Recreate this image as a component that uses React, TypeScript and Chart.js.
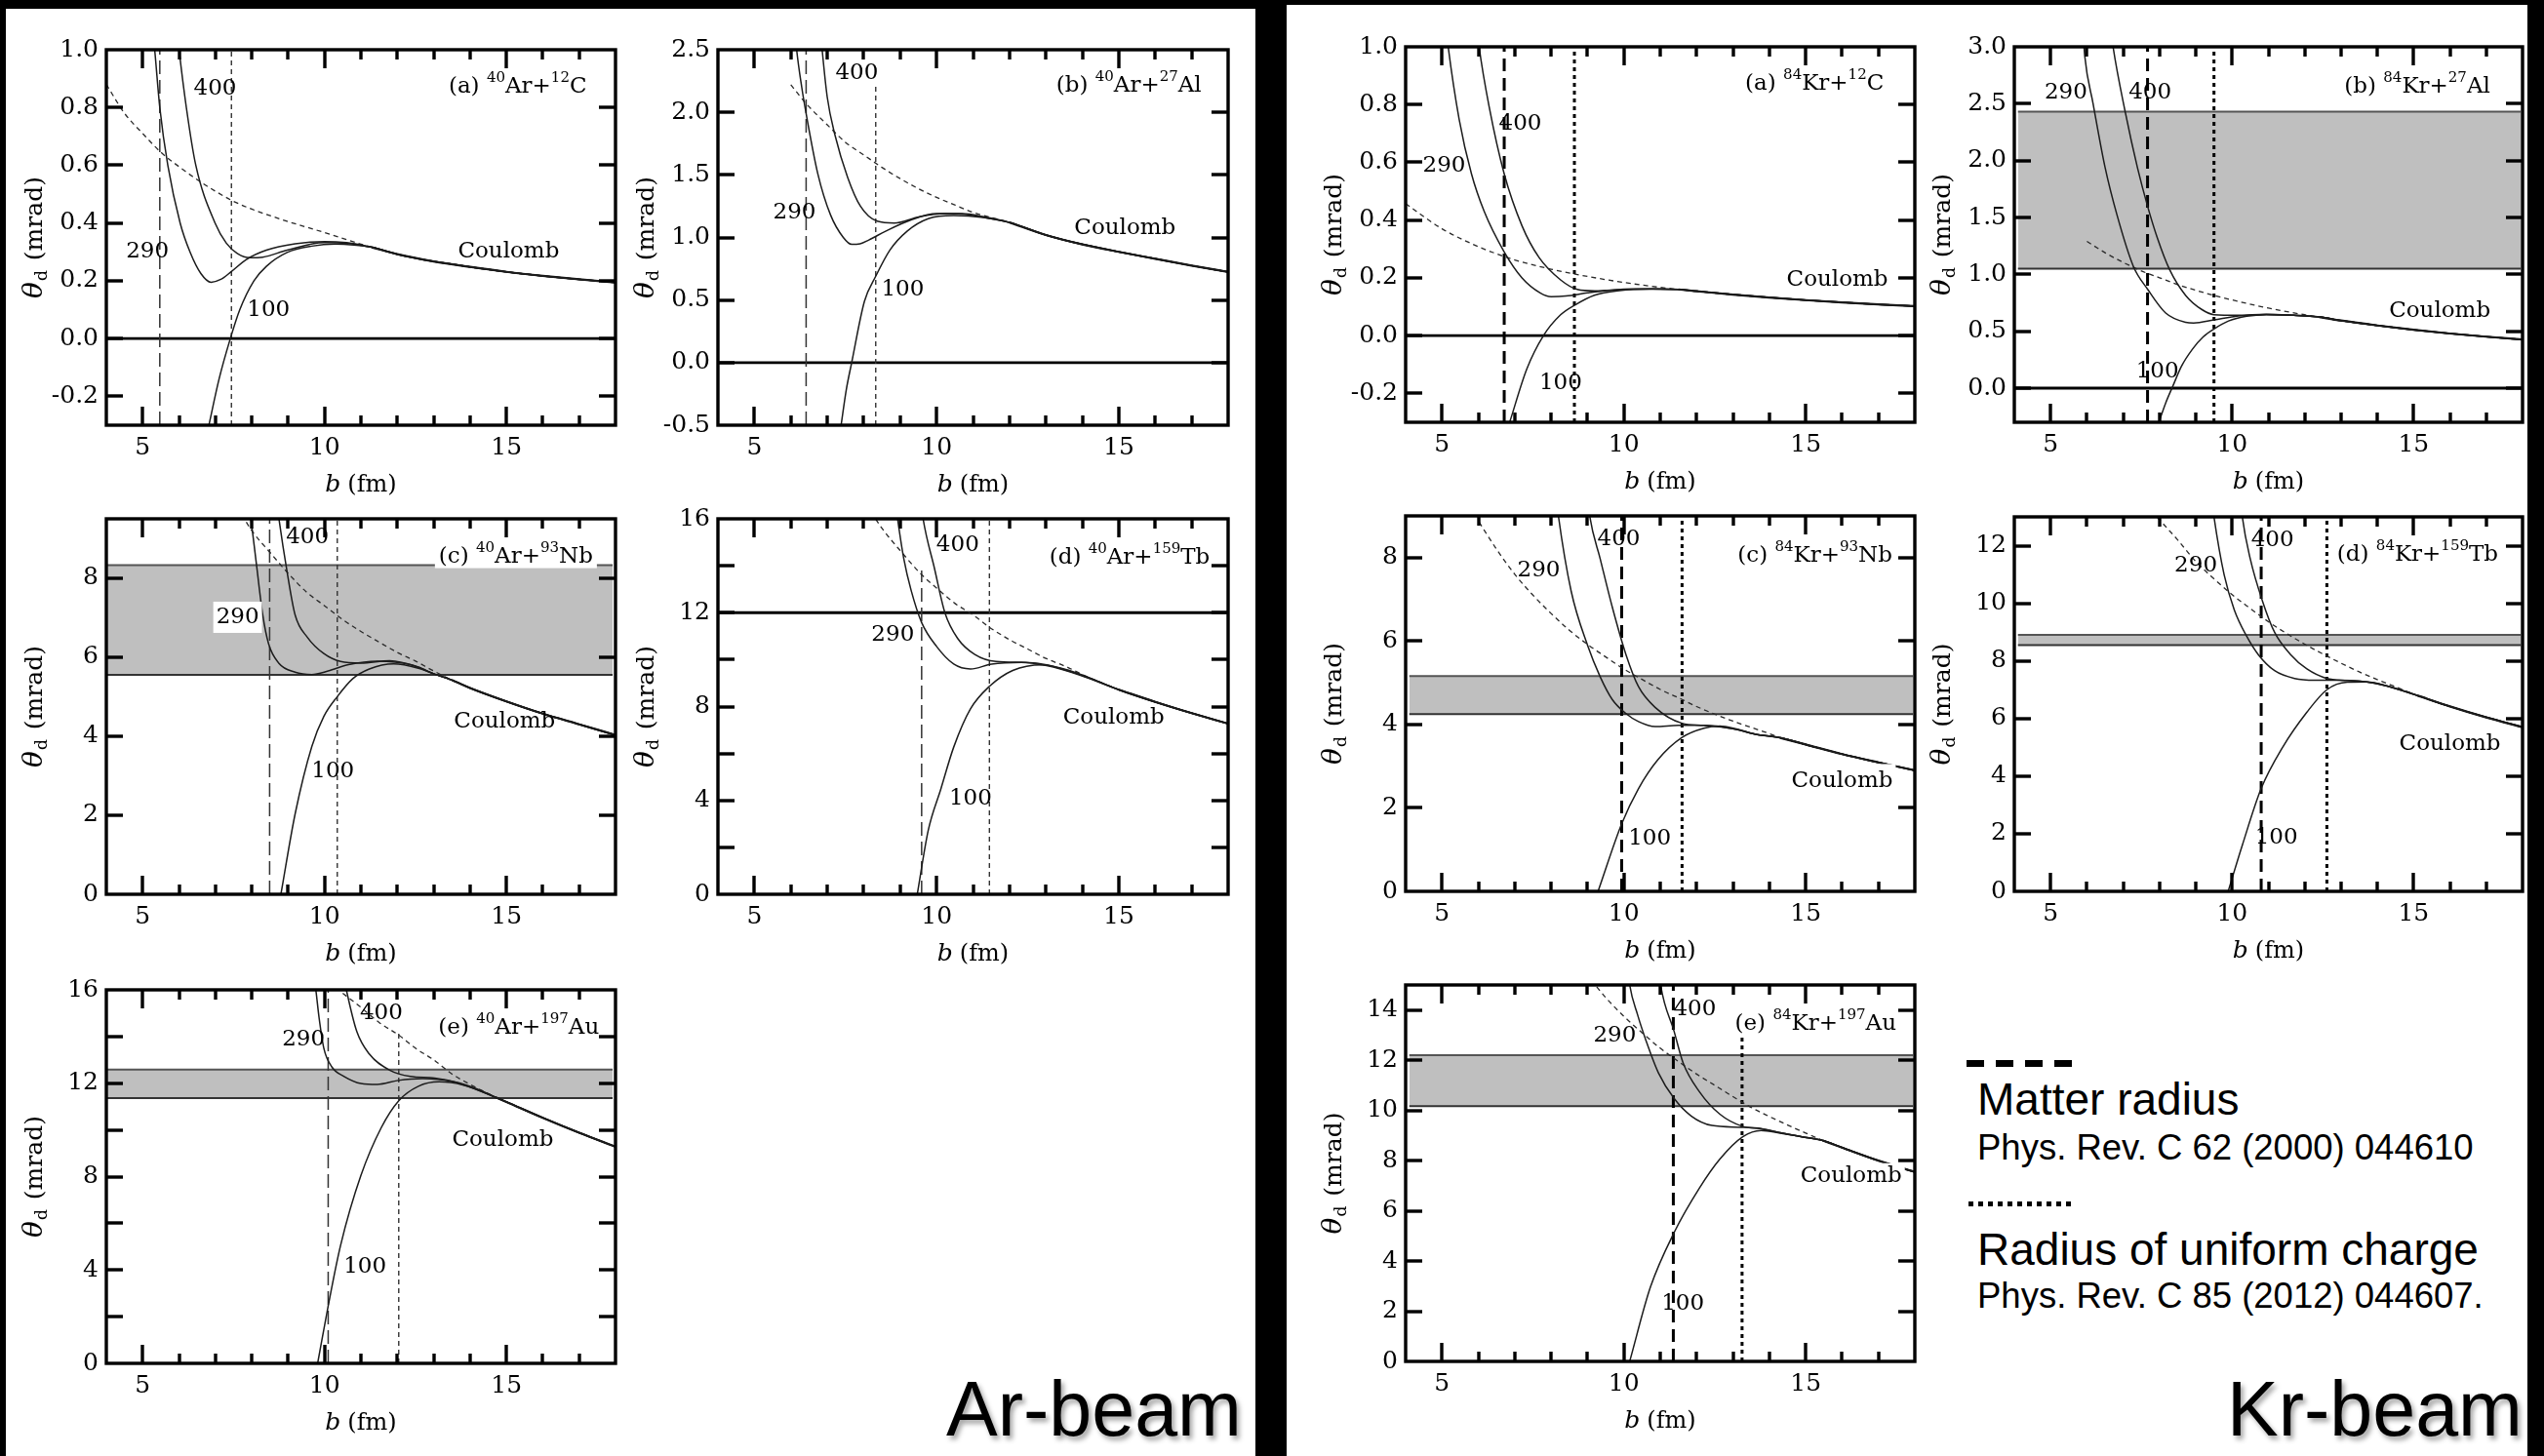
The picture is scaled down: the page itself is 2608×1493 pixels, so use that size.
import { useEffect, useRef } from "react";
import { Chart, registerables } from "chart.js";

Chart.register(...registerables);

type Pt = [number, number];

const SERIF = '"DejaVu Serif", "Liberation Serif", serif';
const SANS = '"Liberation Sans", Arial, Helvetica, sans-serif';

/* ---------- impact parameter axis b (fm), shared by every panel ---------- */
const B_MIN = 4;
const B_MAX = 18;
const B_TICKS = [5, 10, 15];
const B_MINOR = [5, 6, 7, 8, 9, 10, 11, 12, 13, 14, 15, 16, 17];

/* ================= 40Ar beam ================= */

/* (a) 40Ar + 12C */
const AR_C_Y: Pt = [-0.3, 1.0];
const AR_C_TICKS = [-0.2, 0, 0.2, 0.4, 0.6, 0.8, 1.0];
const AR_C_RADII: Pt = [5.47, 7.44]; // matter radius, uniform-charge radius
const AR_C_E100: Pt[] = [[6.82, -0.3], [7.1, -0.14], [7.41, 0.0], [7.67, 0.1], [8.06, 0.2], [8.4, 0.25], [8.97, 0.298], [9.65, 0.32], [10.3, 0.327], [10.8, 0.324], [11.3, 0.316]];
const AR_C_E290: Pt[] = [[5.25, 1.1], [5.33, 1.0], [5.47, 0.8], [5.69, 0.6], [6.03, 0.4], [6.3, 0.3], [6.6, 0.225], [6.88, 0.195], [7.15, 0.205], [7.44, 0.232], [7.84, 0.273], [8.4, 0.306], [9.19, 0.328], [10.0, 0.336], [10.6, 0.332], [11.3, 0.316]];
const AR_C_E400: Pt[] = [[5.95, 1.06], [6.0, 1.0], [6.2, 0.8], [6.46, 0.6], [6.99, 0.4], [7.3, 0.33], [7.6, 0.295], [7.95, 0.28], [8.3, 0.282], [8.97, 0.306], [9.98, 0.332], [10.6, 0.33], [11.3, 0.316]];
const AR_C_COUL: Pt[] = [[4, 0.88], [4.5, 0.78], [5, 0.71], [5.5, 0.645], [6, 0.595], [6.5, 0.55], [7, 0.51], [7.5, 0.475], [8, 0.448], [9, 0.405], [10, 0.367], [11, 0.327], [11.3, 0.316]];
const AR_C_TAIL: Pt[] = [[11.3, 0.316], [12, 0.292], [13, 0.267], [14, 0.248], [15, 0.231], [16, 0.217], [17, 0.205], [18, 0.194]];

/* (b) 40Ar + 27Al */
const AR_AL_Y: Pt = [-0.5, 2.5];
const AR_AL_TICKS = [-0.5, 0, 0.5, 1.0, 1.5, 2.0, 2.5];
const AR_AL_RADII: Pt = [6.42, 8.33];
const AR_AL_E100: Pt[] = [[7.38, -0.5], [7.52, -0.22], [7.67, 0.0], [8.02, 0.49], [8.33, 0.69], [8.72, 0.9], [9.19, 1.05], [9.77, 1.15], [10.47, 1.175], [11.28, 1.16], [12, 1.12]];
const AR_AL_E290: Pt[] = [[6.1, 2.7], [6.16, 2.5], [6.3, 2.2], [6.42, 1.99], [6.74, 1.51], [7.09, 1.18], [7.44, 1.0], [7.67, 0.945], [7.9, 0.95], [8.14, 0.98], [8.6, 1.05], [9.3, 1.14], [10, 1.19], [10.7, 1.19], [11.3, 1.165], [12, 1.12]];
const AR_AL_E400: Pt[] = [[6.8, 2.7], [6.86, 2.5], [7.0, 2.12], [7.21, 1.82], [7.56, 1.48], [7.91, 1.25], [8.37, 1.13], [8.84, 1.115], [9.53, 1.165], [10.23, 1.19], [10.93, 1.18], [11.5, 1.15], [12, 1.12]];
const AR_AL_COUL: Pt[] = [[6, 2.22], [6.42, 2.07], [7, 1.9], [7.5, 1.76], [8, 1.66], [8.5, 1.56], [9, 1.47], [9.5, 1.39], [10, 1.32], [10.5, 1.26], [11, 1.2], [11.5, 1.16], [12, 1.12]];
const AR_AL_TAIL: Pt[] = [[12, 1.12], [13, 1.02], [14, 0.945], [15, 0.885], [16, 0.83], [17, 0.775], [18, 0.725]];

/* (c) 40Ar + 93Nb */
const AR_NB_Y: Pt = [0, 9.5];
const AR_NB_TICKS = [0, 2, 4, 6, 8];
const AR_NB_RADII: Pt = [8.49, 10.35];
const AR_NB_BAND: Pt = [5.55, 8.33];
const AR_NB_E100: Pt[] = [[8.8, 0], [9.19, 2.03], [9.65, 3.74], [9.98, 4.5], [10.35, 5.0], [10.77, 5.45], [11.23, 5.7], [11.9, 5.83], [12.58, 5.72], [13.0, 5.58], [13.5, 5.42]];
const AR_NB_E290: Pt[] = [[7.92, 9.9], [7.97, 9.54], [8.13, 8.33], [8.3, 7.07], [8.46, 6.34], [8.74, 5.85], [9.19, 5.62], [9.65, 5.56], [10.1, 5.65], [10.66, 5.81], [11.45, 5.9], [12.36, 5.81], [13.0, 5.58], [13.5, 5.42]];
const AR_NB_E400: Pt[] = [[8.69, 9.9], [8.74, 9.54], [8.97, 8.16], [9.19, 7.07], [9.53, 6.5], [9.98, 6.09], [10.44, 5.89], [11.0, 5.85], [11.79, 5.91], [12.58, 5.75], [13.0, 5.58], [13.5, 5.42]];
const AR_NB_COUL: Pt[] = [[7.6, 9.8], [8, 9.2], [8.5, 8.65], [9, 8.12], [9.5, 7.65], [10, 7.3], [10.5, 6.95], [11, 6.65], [11.5, 6.38], [12, 6.12], [12.5, 5.9], [13, 5.65], [13.5, 5.42]];
const AR_NB_TAIL: Pt[] = [[13.5, 5.42], [14, 5.22], [15, 4.88], [16, 4.57], [17, 4.3], [18, 4.03]];

/* (d) 40Ar + 159Tb */
const AR_TB_Y: Pt = [0, 16];
const AR_TB_TICKS = [0, 4, 8, 12, 16];
const AR_TB_MARKS = [2, 6, 10, 14];
const AR_TB_RADII: Pt = [9.59, 11.45];
const AR_TB_LEVEL = 12;
const AR_TB_E100: Pt[] = [[9.47, 0], [9.77, 2.72], [10.12, 4.5], [10.47, 6.27], [10.93, 7.9], [11.45, 8.86], [12.09, 9.54], [12.9, 9.78], [13.72, 9.5], [15, 8.72]];
const AR_TB_E290: Pt[] = [[8.88, 16.6], [8.93, 16], [9.1, 14.3], [9.3, 12.96], [9.59, 11.58], [10, 10.56], [10.47, 9.81], [10.93, 9.6], [11.51, 9.81], [12.33, 9.88], [13.02, 9.74], [13.95, 9.33], [15, 8.72]];
const AR_TB_E400: Pt[] = [[9.58, 16.6], [9.63, 16], [9.94, 13.9], [10.23, 11.99], [10.58, 10.9], [11.05, 10.22], [11.63, 9.92], [12.44, 9.88], [13.02, 9.78], [13.95, 9.35], [15, 8.72]];
const AR_TB_COUL: Pt[] = [[8.2, 16.3], [8.5, 15.6], [9, 14.65], [9.59, 13.62], [10, 13.05], [10.5, 12.4], [11, 11.9], [11.45, 11.38], [12, 10.85], [12.5, 10.45], [13, 10.05], [13.6, 9.67], [14, 9.36], [14.5, 9.03], [15, 8.72]];
const AR_TB_TAIL: Pt[] = [[15, 8.72], [16, 8.2], [17, 7.72], [18, 7.27]];

/* (e) 40Ar + 197Au */
const AR_AU_Y: Pt = [0, 16];
const AR_AU_TICKS = [0, 4, 8, 12, 16];
const AR_AU_MARKS = [2, 6, 10, 14];
const AR_AU_RADII: Pt = [10.1, 12.04];
const AR_AU_BAND: Pt = [11.36, 12.59];
const AR_AU_E100: Pt[] = [[9.81, 0], [10.1, 2.46], [10.44, 5.05], [11.0, 8.05], [11.56, 10.1], [12.04, 11.25], [12.58, 11.87], [13.15, 12.06], [13.82, 11.92], [14.7, 11.4]];
const AR_AU_E290: Pt[] = [[9.7, 16.6], [9.76, 16], [9.85, 14.8], [9.98, 13.5], [10.2, 12.7], [10.55, 12.28], [11, 11.99], [11.45, 11.95], [12.02, 12.12], [12.69, 12.2], [13.48, 12.08], [14.2, 11.72], [14.7, 11.4]];
const AR_AU_E400: Pt[] = [[10.55, 16.4], [10.6, 16], [10.89, 14.2], [11.23, 13.25], [11.79, 12.56], [12.36, 12.29], [13.03, 12.22], [13.71, 12.01], [14.2, 11.75], [14.7, 11.4]];
const AR_AU_COUL: Pt[] = [[10.5, 15.85], [11, 15.25], [11.5, 14.6], [12.04, 14.06], [12.5, 13.5], [13, 13.0], [13.5, 12.4], [14, 11.95], [14.7, 11.4]];
const AR_AU_TAIL: Pt[] = [[14.7, 11.4], [15, 11.2], [16, 10.52], [17, 9.88], [18, 9.28]];

/* ================= 84Kr beam ================= */

/* (a) 84Kr + 12C */
const KR_C_Y: Pt = [-0.3, 1.0];
const KR_C_TICKS = [-0.2, 0, 0.2, 0.4, 0.6, 0.8, 1.0];
const KR_C_RADII: Pt = [6.71, 8.64];
const KR_C_E100: Pt[] = [[6.86, -0.3], [7.33, -0.116], [7.79, 0.0], [8.26, 0.072], [8.64, 0.105], [9.19, 0.14], [9.88, 0.156], [10.7, 0.161], [11.5, 0.16]];
const KR_C_E290: Pt[] = [[5.1, 1.08], [5.17, 1.0], [5.47, 0.75], [5.81, 0.56], [6.16, 0.43], [6.71, 0.29], [7.2, 0.2], [7.7, 0.148], [8.0, 0.135], [8.4, 0.137], [9.0, 0.148], [9.6, 0.157], [10.3, 0.162], [11, 0.162], [11.5, 0.16]];
const KR_C_E400: Pt[] = [[5.95, 1.08], [6.02, 1.0], [6.3, 0.79], [6.71, 0.56], [7.2, 0.38], [7.67, 0.27], [8.26, 0.193], [8.72, 0.16], [9.2, 0.155], [10, 0.16], [10.8, 0.162], [11.5, 0.16]];
const KR_C_COUL: Pt[] = [[4, 0.457], [5, 0.37], [6, 0.308], [6.71, 0.274], [7, 0.262], [8, 0.23], [9, 0.205], [10, 0.184], [11, 0.167], [11.5, 0.16]];
const KR_C_TAIL: Pt[] = [[11.5, 0.16], [12, 0.154], [13, 0.142], [14, 0.132], [15, 0.123], [16, 0.115], [17, 0.108], [18, 0.102]];

/* (b) 84Kr + 27Al */
const KR_AL_Y: Pt = [-0.3, 3.0];
const KR_AL_TICKS = [0, 0.5, 1.0, 1.5, 2.0, 2.5, 3.0];
const KR_AL_RADII: Pt = [7.67, 9.5];
const KR_AL_BAND: Pt = [1.05, 2.43];
const KR_AL_E100: Pt[] = [[7.97, -0.31], [8.17, -0.13], [8.37, 0.02], [8.6, 0.19], [8.9, 0.34], [9.2, 0.45], [9.5, 0.52], [9.9, 0.59], [10.4, 0.632], [10.94, 0.646], [11.7, 0.64], [12.4, 0.625]];
const KR_AL_E290: Pt[] = [[5.9, 3.1], [5.94, 2.92], [6.17, 2.5], [6.5, 1.94], [6.83, 1.52], [7.28, 1.07], [7.67, 0.87], [8.17, 0.66], [8.72, 0.578], [8.94, 0.572], [9.5, 0.6], [10.17, 0.635], [10.94, 0.648], [11.7, 0.64], [12.4, 0.625]];
const KR_AL_E400: Pt[] = [[6.68, 3.1], [6.72, 3.0], [7.06, 2.42], [7.39, 1.94], [7.67, 1.6], [7.94, 1.32], [8.28, 1.04], [8.72, 0.815], [9.17, 0.69], [9.5, 0.646], [10.17, 0.64], [10.94, 0.65], [11.7, 0.64], [12.4, 0.625]];
const KR_AL_COUL: Pt[] = [[6, 1.29], [6.5, 1.19], [7, 1.105], [7.5, 1.03], [8, 0.97], [8.5, 0.91], [9, 0.86], [9.5, 0.815], [10, 0.775], [11, 0.703], [12, 0.645], [12.4, 0.625]];
const KR_AL_TAIL: Pt[] = [[12.4, 0.625], [13, 0.594], [14, 0.551], [15, 0.513], [16, 0.48], [17, 0.452], [18, 0.427]];

/* (c) 84Kr + 93Nb */
const KR_NB_Y: Pt = [0, 9];
const KR_NB_TICKS = [0, 2, 4, 6, 8];
const KR_NB_RADII: Pt = [9.94, 11.6];
const KR_NB_BAND: Pt = [4.25, 5.16];
const KR_NB_E100: Pt[] = [[9.29, 0], [9.94, 1.62], [10.4, 2.46], [10.93, 3.15], [11.6, 3.69], [12.2, 3.91], [12.64, 3.96], [13.1, 3.89], [13.6, 3.77], [14.3, 3.68]];
const KR_NB_E290: Pt[] = [[8.16, 9.3], [8.2, 9.0], [8.55, 7.2], [9.0, 5.9], [9.35, 5.14], [9.68, 4.6], [10.06, 4.26], [10.4, 4.07], [10.86, 3.95], [11.5, 3.98], [12.2, 3.98], [13, 3.9], [13.6, 3.77], [14.3, 3.68]];
const KR_NB_E400: Pt[] = [[9.02, 9.3], [9.06, 9.0], [9.35, 7.97], [9.68, 6.82], [10.06, 5.67], [10.4, 4.91], [10.86, 4.41], [11.6, 4.03], [12.2, 3.98], [13, 3.9], [13.6, 3.77], [14.3, 3.68]];
const KR_NB_COUL: Pt[] = [[6.02, 8.85], [6.5, 8.2], [7, 7.6], [7.5, 7.1], [8, 6.66], [8.5, 6.26], [9, 5.92], [9.5, 5.62], [10, 5.33], [10.5, 5.08], [11, 4.84], [11.6, 4.6], [12, 4.43], [13, 4.08], [14, 3.78], [14.3, 3.68]];
const KR_NB_TAIL: Pt[] = [[14.3, 3.68], [15, 3.52], [16, 3.29], [17, 3.09], [18, 2.9]];

/* (d) 84Kr + 159Tb */
const KR_TB_Y: Pt = [0, 13];
const KR_TB_TICKS = [0, 2, 4, 6, 8, 10, 12];
const KR_TB_RADII: Pt = [10.8, 12.61];
const KR_TB_BAND: Pt = [8.55, 8.9];
const KR_TB_E100: Pt[] = [[9.89, 0], [10.28, 1.6], [10.8, 3.57], [11.39, 5.0], [12.06, 6.22], [12.61, 7.0], [13.17, 7.26], [13.72, 7.27], [14.3, 7.12], [15.1, 6.8]];
const KR_TB_E290: Pt[] = [[9.45, 13.5], [9.5, 13], [9.78, 10.99], [10.06, 9.77], [10.39, 8.88], [10.72, 8.22], [11.17, 7.66], [11.72, 7.39], [12.28, 7.33], [12.94, 7.33], [13.5, 7.3], [14.3, 7.12], [15.1, 6.8]];
const KR_TB_E400: Pt[] = [[10.24, 13.5], [10.28, 13], [10.5, 11.54], [10.83, 10.1], [11.17, 8.99], [11.61, 8.22], [12.06, 7.72], [12.61, 7.39], [13.17, 7.32], [13.72, 7.27], [14.3, 7.12], [15.1, 6.8]];
const KR_TB_COUL: Pt[] = [[7.94, 12.98], [8.5, 12.2], [9, 11.45], [9.5, 10.85], [10, 10.3], [10.5, 9.82], [11, 9.36], [11.5, 8.95], [12, 8.58], [12.5, 8.24], [13, 7.92], [13.5, 7.62], [14, 7.35], [14.5, 7.1], [15.1, 6.8]];
const KR_TB_TAIL: Pt[] = [[15.1, 6.8], [16, 6.42], [17, 6.04], [18, 5.7]];

/* (e) 84Kr + 197Au */
const KR_AU_Y: Pt = [0, 15];
const KR_AU_TICKS = [0, 2, 4, 6, 8, 10, 12, 14];
const KR_AU_RADII: Pt = [11.36, 13.25];
const KR_AU_BAND: Pt = [10.17, 12.2];
const KR_AU_E100: Pt[] = [[10.16, 0], [10.73, 2.96], [11.38, 5.13], [12.08, 6.91], [12.64, 8.06], [13.27, 8.95], [13.77, 9.2], [14.34, 9.08], [14.9, 8.95], [15.47, 8.8]];
const KR_AU_E290: Pt[] = [[10.12, 15.5], [10.16, 15], [10.38, 13.8], [10.61, 12.78], [10.95, 11.5], [11.38, 10.48], [11.85, 9.78], [12.42, 9.4], [13.2, 9.33], [13.77, 9.28], [14.34, 9.1], [14.9, 8.95], [15.47, 8.8]];
const KR_AU_E400: Pt[] = [[10.97, 15.5], [11.01, 15], [11.38, 13.16], [11.63, 11.89], [12.08, 10.74], [12.64, 9.85], [13.27, 9.36], [13.77, 9.27], [14.34, 9.1], [14.9, 8.95], [15.47, 8.8]];
const KR_AU_COUL: Pt[] = [[9.1, 15.2], [9.5, 14.5], [10, 13.75], [10.45, 13.16], [11, 12.48], [11.5, 11.95], [12, 11.45], [12.5, 11.0], [13, 10.55], [13.5, 10.12], [14, 9.76], [14.5, 9.42], [15, 9.1], [15.47, 8.8]];
const KR_AU_TAIL: Pt[] = [[15.47, 8.8], [16, 8.52], [17, 8.0], [18, 7.55]];

/* ---------- panel layout ---------- */
const PAD_L = 116;
const PAD_T = 16;
const PAD_R = 16;
const PAD_B = 84;

interface Label { t: string; x: number; y: number; bg?: number }
interface Title { tag: string; a1: string; e1: string; a2: string; e2: string; x: number; y: number; bg?: boolean }
interface PanelSpec {
  left: number; top: number; w: number; h: number;
  yr: Pt; ticks: number[]; marks?: number[]; dec: number;
  e100: Pt[]; e290: Pt[]; e400: Pt[]; coul: Pt[]; tail: Pt[];
  radii: Pt; matterTop?: number; chargeTop?: number;
  level?: number; band?: Pt; bandX: Pt;
  kr: boolean; labels: Label[]; title: Title;
}

const AR_BX: Pt = [4.02, 17.92];
const KR_BX: Pt = [4.1, 17.95];

const PANELS: PanelSpec[] = [
  {
    left: 109, top: 44, w: 522, h: 392, yr: AR_C_Y, ticks: AR_C_TICKS, dec: 1,
    e100: AR_C_E100, e290: AR_C_E290, e400: AR_C_E400, coul: AR_C_COUL, tail: AR_C_TAIL,
    radii: AR_C_RADII, level: 0, bandX: AR_BX, kr: false,
    labels: [{ t: "400", x: 6.99, y: 0.875 }, { t: "290", x: 5.13, y: 0.311 }, { t: "100", x: 8.46, y: 0.107 }, { t: "Coulomb", x: 15.06, y: 0.311 }],
    title: { tag: "(a)", a1: "40", e1: "Ar+", a2: "12", e2: "C", x: 17.21, y: 0.88 },
  },
  {
    left: 736, top: 44, w: 523, h: 392, yr: AR_AL_Y, ticks: AR_AL_TICKS, dec: 1,
    e100: AR_AL_E100, e290: AR_AL_E290, e400: AR_AL_E400, coul: AR_AL_COUL, tail: AR_AL_TAIL,
    radii: AR_AL_RADII, chargeTop: 2.22, level: 0, bandX: AR_BX, kr: false,
    labels: [{ t: "400", x: 7.81, y: 2.33 }, { t: "290", x: 6.1, y: 1.22 }, { t: "100", x: 9.07, y: 0.6 }, { t: "Coulomb", x: 15.17, y: 1.09 }],
    title: { tag: "(b)", a1: "40", e1: "Ar+", a2: "27", e2: "Al", x: 17.27, y: 2.23 },
  },
  {
    left: 109, top: 525, w: 522, h: 392, yr: AR_NB_Y, ticks: AR_NB_TICKS, dec: 0,
    e100: AR_NB_E100, e290: AR_NB_E290, e400: AR_NB_E400, coul: AR_NB_COUL, tail: AR_NB_TAIL,
    radii: AR_NB_RADII, band: AR_NB_BAND, bandX: AR_BX, kr: false,
    labels: [{ t: "400", x: 9.53, y: 9.1 }, { t: "290", x: 7.61, y: 7.07, bg: 5 }, { t: "100", x: 10.23, y: 3.18 }, { t: "Coulomb", x: 14.95, y: 4.43 }],
    title: { tag: "(c)", a1: "40", e1: "Ar+", a2: "93", e2: "Nb", x: 17.38, y: 8.61, bg: true },
  },
  {
    left: 736, top: 525, w: 523, h: 392, yr: AR_TB_Y, ticks: AR_TB_TICKS, marks: AR_TB_MARKS, dec: 0,
    e100: AR_TB_E100, e290: AR_TB_E290, e400: AR_TB_E400, coul: AR_TB_COUL, tail: AR_TB_TAIL,
    radii: AR_TB_RADII, matterTop: 13.8, level: AR_TB_LEVEL, bandX: AR_BX, kr: false,
    labels: [{ t: "400", x: 10.58, y: 14.99 }, { t: "290", x: 8.8, y: 11.17 }, { t: "100", x: 10.93, y: 4.16 }, { t: "Coulomb", x: 14.86, y: 7.63 }],
    title: { tag: "(d)", a1: "40", e1: "Ar+", a2: "159", e2: "Tb", x: 17.5, y: 14.44 },
  },
  {
    left: 109, top: 1008, w: 522, h: 390, yr: AR_AU_Y, ticks: AR_AU_TICKS, marks: AR_AU_MARKS, dec: 0,
    e100: AR_AU_E100, e290: AR_AU_E290, e400: AR_AU_E400, coul: AR_AU_COUL, tail: AR_AU_TAIL,
    radii: AR_AU_RADII, chargeTop: 14.27, band: AR_AU_BAND, bandX: AR_BX, kr: false,
    labels: [{ t: "400", x: 11.56, y: 15.09 }, { t: "290", x: 9.42, y: 13.99 }, { t: "100", x: 11.11, y: 4.23 }, { t: "Coulomb", x: 14.9, y: 9.69 }],
    title: { tag: "(e)", a1: "40", e1: "Ar+", a2: "197", e2: "Au", x: 17.55, y: 14.47 },
  },
  {
    left: 1441, top: 41, w: 522, h: 392, yr: KR_C_Y, ticks: KR_C_TICKS, dec: 1,
    e100: KR_C_E100, e290: KR_C_E290, e400: KR_C_E400, coul: KR_C_COUL, tail: KR_C_TAIL,
    radii: KR_C_RADII, level: 0, bandX: KR_BX, kr: true,
    labels: [{ t: "400", x: 7.15, y: 0.742 }, { t: "290", x: 5.06, y: 0.598 }, { t: "100", x: 8.26, y: -0.155 }, { t: "Coulomb", x: 15.87, y: 0.2 }],
    title: { tag: "(a)", a1: "84", e1: "Kr+", a2: "12", e2: "C", x: 17.15, y: 0.88 },
  },
  {
    left: 2065, top: 41, w: 521, h: 392, yr: KR_AL_Y, ticks: KR_AL_TICKS, dec: 1,
    e100: KR_AL_E100, e290: KR_AL_E290, e400: KR_AL_E400, coul: KR_AL_COUL, tail: KR_AL_TAIL,
    radii: KR_AL_RADII, level: 0, band: KR_AL_BAND, bandX: KR_BX, kr: true,
    labels: [{ t: "290", x: 5.42, y: 2.62 }, { t: "400", x: 7.74, y: 2.62 }, { t: "100", x: 7.94, y: 0.17 }, { t: "Coulomb", x: 15.72, y: 0.7 }],
    title: { tag: "(b)", a1: "84", e1: "Kr+", a2: "27", e2: "Al", x: 17.11, y: 2.67 },
  },
  {
    left: 1441, top: 522, w: 522, h: 392, yr: KR_NB_Y, ticks: KR_NB_TICKS, dec: 0,
    e100: KR_NB_E100, e290: KR_NB_E290, e400: KR_NB_E400, coul: KR_NB_COUL, tail: KR_NB_TAIL,
    radii: KR_NB_RADII, band: KR_NB_BAND, bandX: KR_BX, kr: true,
    labels: [{ t: "400", x: 9.86, y: 8.5 }, { t: "290", x: 7.66, y: 7.74 }, { t: "100", x: 10.71, y: 1.31 }, { t: "Coulomb", x: 16.0, y: 2.69, bg: 7 }],
    title: { tag: "(c)", a1: "84", e1: "Kr+", a2: "93", e2: "Nb", x: 17.38, y: 8.1 },
  },
  {
    left: 2065, top: 523, w: 521, h: 391, yr: KR_TB_Y, ticks: KR_TB_TICKS, dec: 0,
    e100: KR_TB_E100, e290: KR_TB_E290, e400: KR_TB_E400, coul: KR_TB_COUL, tail: KR_TB_TAIL,
    radii: KR_TB_RADII, band: KR_TB_BAND, bandX: KR_BX, kr: true,
    labels: [{ t: "400", x: 11.11, y: 12.26 }, { t: "290", x: 9.0, y: 11.4 }, { t: "100", x: 11.22, y: 1.96 }, { t: "Coulomb", x: 16.0, y: 5.2 }],
    title: { tag: "(d)", a1: "84", e1: "Kr+", a2: "159", e2: "Tb", x: 17.33, y: 11.76 },
  },
  {
    left: 1441, top: 1003, w: 522, h: 393, yr: KR_AU_Y, ticks: KR_AU_TICKS, dec: 0,
    e100: KR_AU_E100, e290: KR_AU_E290, e400: KR_AU_E400, coul: KR_AU_COUL, tail: KR_AU_TAIL,
    radii: KR_AU_RADII, chargeTop: 12.9, band: KR_AU_BAND, bandX: KR_BX, kr: true,
    labels: [{ t: "400", x: 11.95, y: 14.12 }, { t: "290", x: 9.75, y: 13.06 }, { t: "100", x: 11.62, y: 2.39 }, { t: "Coulomb", x: 16.25, y: 7.49, bg: 2 }],
    title: { tag: "(e)", a1: "84", e1: "Kr+", a2: "197", e2: "Au", x: 17.49, y: 13.55 },
  },
];

/* ---------- drawing helpers ---------- */
const toXY = (pts: Pt[]) => pts.map(([x, y]) => ({ x, y }));

function drawLabel(ctx: CanvasRenderingContext2D, l: Label, px: number, py: number) {
  ctx.font = `23px ${SERIF}`;
  ctx.textAlign = "center";
  ctx.textBaseline = "alphabetic";
  const w = ctx.measureText(l.t).width;
  const base = py + 8.5;
  if (l.bg !== undefined) {
    ctx.fillStyle = "#fff";
    ctx.fillRect(px - w / 2 - 3, base - 17 - l.bg, w + 6, 22 + 2 * l.bg);
  }
  ctx.fillStyle = "#000";
  ctx.fillText(l.t, px, base);
}

function drawTitle(ctx: CanvasRenderingContext2D, t: Title, right: number, cy: number) {
  const main = `23px ${SERIF}`;
  const sup = `15px ${SERIF}`;
  const parts: [string, string, number][] = [
    [t.tag + " ", main, 0], [t.a1, sup, -11], [t.e1, main, 0], [t.a2, sup, -11], [t.e2, main, 0],
  ];
  const widths = parts.map(([s, f]) => { ctx.font = f; return ctx.measureText(s).width; });
  const total = widths.reduce((a, b) => a + b, 0);
  const base = cy + 8.5;
  let x = right - total;
  if (t.bg) {
    ctx.fillStyle = "#fff";
    ctx.fillRect(x - 4, base - 28, total + 8, 34);
  }
  ctx.fillStyle = "#000";
  ctx.textAlign = "left";
  ctx.textBaseline = "alphabetic";
  parts.forEach(([s, f, dy], i) => {
    ctx.font = f;
    ctx.fillText(s, x, base + dy);
    x += widths[i];
  });
}

function decorations(p: PanelSpec) {
  return {
    id: "panelDecor",
    afterDatasetsDraw(chart: any) {
      const { ctx, scales } = chart;
      const x = scales.x, y = scales.y;
      ctx.save();
      for (const l of p.labels) drawLabel(ctx, l, x.getPixelForValue(l.x), y.getPixelForValue(l.y));
      drawTitle(ctx, p.title, x.getPixelForValue(p.title.x), y.getPixelForValue(p.title.y));
      ctx.restore();
    },
    afterDraw(chart: any) {
      const { ctx, chartArea: a, scales } = chart;
      const x = scales.x, y = scales.y;
      ctx.save();
      ctx.setLineDash([]);
      ctx.fillStyle = "#000";
      const tw = 3.4;
      // inward tick marks on all four sides
      for (const v of B_MINOR) {
        const px = Math.round(x.getPixelForValue(v));
        const len = B_TICKS.includes(v) ? 19 : 10;
        ctx.fillRect(px - tw / 2, a.bottom - len, tw, len);
        ctx.fillRect(px - tw / 2, a.top, tw, len);
      }
      for (const v of [...p.ticks, ...(p.marks ?? [])]) {
        const py = Math.round(y.getPixelForValue(v));
        if (py < a.top + 1 || py > a.bottom - 1) continue;
        ctx.fillRect(a.left, py - tw / 2, 17, tw);
        ctx.fillRect(a.right - 17, py - tw / 2, 17, tw);
      }
      // frame
      ctx.strokeStyle = "#000";
      ctx.lineWidth = 3.4;
      ctx.strokeRect(a.left, a.top, a.right - a.left, a.bottom - a.top);

      // x-axis title: b (fm)
      ctx.textAlign = "left";
      ctx.textBaseline = "alphabetic";
      const cx = (a.left + a.right) / 2;
      const bx = a.bottom + 68;
      ctx.font = `italic 25px ${SERIF}`;
      const wb = ctx.measureText("b").width;
      ctx.font = `24px ${SERIF}`;
      const wf = ctx.measureText("(fm)").width;
      const gap = 7;
      let sx = cx - (wb + gap + wf) / 2;
      ctx.font = `italic 25px ${SERIF}`;
      ctx.fillText("b", sx, bx);
      ctx.font = `24px ${SERIF}`;
      ctx.fillText("(fm)", sx + wb + gap, bx);

      // y-axis title: θd (mrad)
      ctx.translate(a.left - 76, (a.top + a.bottom) / 2);
      ctx.rotate(-Math.PI / 2);
      ctx.font = `italic 28px ${SERIF}`;
      const wt = ctx.measureText("θ").width;
      ctx.font = `17px ${SERIF}`;
      const wd = ctx.measureText("d").width;
      ctx.font = `25px ${SERIF}`;
      const wm = ctx.measureText("(mrad)").width;
      const g2 = 11;
      sx = -(wt + wd + g2 + wm) / 2;
      ctx.font = `italic 28px ${SERIF}`;
      ctx.fillText("θ", sx, 10);
      ctx.font = `17px ${SERIF}`;
      ctx.fillText("d", sx + wt + 1, 15);
      ctx.font = `25px ${SERIF}`;
      ctx.fillText("(mrad)", sx + wt + wd + g2, 10);
      ctx.restore();
    },
  };
}

function buildConfig(p: PanelSpec): any {
  const [yMin, yMax] = p.yr;
  const base = { pointRadius: 0, pointHoverRadius: 0, fill: false };
  const curve = { ...base, borderColor: "#1c1c1c", borderWidth: 1.5, cubicInterpolationMode: "monotone", order: 1 };
  // each energy curve continues along the common large-b branch
  const withTail = (e: Pt[]) => toXY(e.concat(p.tail.slice(1)));
  const datasets: any[] = [
    { ...curve, label: "100 MeV/u", data: withTail(p.e100) },
    { ...curve, label: "290 MeV/u", data: withTail(p.e290) },
    { ...curve, label: "400 MeV/u", data: withTail(p.e400) },
    { ...base, label: "common", data: toXY(p.tail), borderColor: "#111", borderWidth: 2.2, cubicInterpolationMode: "monotone", order: 2 },
    { ...base, label: "Coulomb", data: toXY(p.coul), borderColor: "#2a2a2a", borderWidth: 1.3, borderDash: [5, 4], cubicInterpolationMode: "monotone", order: 3 },
    {
      ...base, label: "matter radius", order: 4,
      data: toXY([[p.radii[0], yMin], [p.radii[0], p.matterTop ?? yMax]]),
      borderColor: p.kr ? "#000" : "#333", borderWidth: p.kr ? 3 : 1.5, borderDash: p.kr ? [13, 7] : [14, 6],
    },
    {
      ...base, label: "uniform-charge radius", order: 4,
      data: toXY([[p.radii[1], yMin], [p.radii[1], p.chargeTop ?? yMax]]),
      borderColor: p.kr ? "#000" : "#333", borderWidth: p.kr ? 3 : 1.4, borderDash: p.kr ? [4, 4] : [5, 4],
    },
  ];
  if (p.level !== undefined) {
    datasets.push({ ...base, label: "level", data: toXY([[B_MIN, p.level], [B_MAX, p.level]]), borderColor: "#000", borderWidth: 2.8, order: 5 });
  }
  if (p.band) {
    const [lo, hi] = p.band;
    const [x0, x1] = p.bandX;
    datasets.push({ ...base, label: "band", data: toXY([[x0, hi], [x1, hi]]), borderColor: "#555", borderWidth: 2, backgroundColor: "#bfbfbf", fill: { value: lo }, order: 7 });
    datasets.push({ ...base, label: "band edge", data: toXY([[x0, lo], [x1, lo]]), borderColor: "#333", borderWidth: 2, order: 6 });
  }
  return {
    type: "line",
    data: { datasets },
    options: {
      animation: false,
      responsive: false,
      events: [],
      layout: { padding: { left: 0, top: PAD_T, right: PAD_R, bottom: 0 } },
      plugins: { legend: { display: false }, tooltip: { enabled: false }, title: { display: false } },
      scales: {
        x: {
          type: "linear", min: B_MIN, max: B_MAX,
          afterBuildTicks: (s: any) => { s.ticks = B_TICKS.map((v) => ({ value: v })); },
          afterFit: (s: any) => { s.height = PAD_B; },
          grid: { display: false, drawTicks: false },
          border: { display: false },
          ticks: { color: "#000", font: { family: SERIF, size: 25 }, padding: 8, maxRotation: 0, autoSkip: false, callback: (v: any) => String(v) },
        },
        y: {
          type: "linear", min: yMin, max: yMax,
          afterBuildTicks: (s: any) => { s.ticks = p.ticks.map((v) => ({ value: v })); },
          afterFit: (s: any) => { s.width = PAD_L; },
          grid: { display: false, drawTicks: false },
          border: { display: false },
          ticks: { color: "#000", font: { family: SERIF, size: 25 }, padding: 8, autoSkip: false, callback: (v: any) => Number(v).toFixed(p.dec) },
        },
      },
    },
    plugins: [decorations(p)],
  };
}

function Panel({ p }: { p: PanelSpec }) {
  const ref = useRef<HTMLCanvasElement>(null);
  useEffect(() => {
    const chart = new Chart(ref.current as HTMLCanvasElement, buildConfig(p));
    return () => chart.destroy();
  }, [p]);
  const w = p.w + PAD_L + PAD_R;
  const h = p.h + PAD_T + PAD_B;
  return (
    <canvas
      ref={ref}
      width={w}
      height={h}
      style={{ position: "absolute", left: p.left - PAD_L, top: p.top - PAD_T, width: w, height: h }}
    />
  );
}

const sansText = (left: number, baseline: number, size: number): React.CSSProperties => ({
  position: "absolute",
  left,
  top: baseline - 0.8465 * size,
  fontFamily: SANS,
  fontSize: size,
  lineHeight: `${size}px`,
  color: "#000",
  whiteSpace: "nowrap",
});

export default function App() {
  return (
    <div style={{ position: "fixed", left: 0, top: 0, width: 2608, height: 1493, background: "#000", overflow: "hidden" }}>
      <div style={{ position: "absolute", left: 6, top: 9, width: 1281, height: 1484, background: "#fff" }} />
      <div style={{ position: "absolute", left: 1319, top: 5, width: 1272, height: 1488, background: "#fff" }} />
      {PANELS.map((p, i) => (
        <Panel key={i} p={p} />
      ))}

      {/* line-style key for the two radii */}
      <div style={{ position: "absolute", left: 2016, top: 1087, width: 110, height: 7, background: "repeating-linear-gradient(90deg, #000 0 18px, transparent 18px 30px)" }} />
      <div style={sansText(2027, 1143, 46)}>Matter radius</div>
      <div style={sansText(2027, 1190, 36.5)}>Phys. Rev. C 62 (2000) 044610</div>
      <div style={{ position: "absolute", left: 2018, top: 1232, width: 108, height: 5, background: "repeating-linear-gradient(90deg, #000 0 5px, transparent 5px 10px)" }} />
      <div style={sansText(2027, 1297, 46)}>Radius of uniform charge</div>
      <div style={sansText(2027, 1342, 36.5)}>Phys. Rev. C 85 (2012) 044607.</div>

      <div style={{ ...sansText(970, 1472, 79), textShadow: "3px 4px 5px rgba(0,0,0,0.35)" }}>Ar-beam</div>
      <div style={{ ...sansText(2283, 1472, 79), textShadow: "3px 4px 5px rgba(0,0,0,0.35)" }}>Kr-beam</div>
    </div>
  );
}
